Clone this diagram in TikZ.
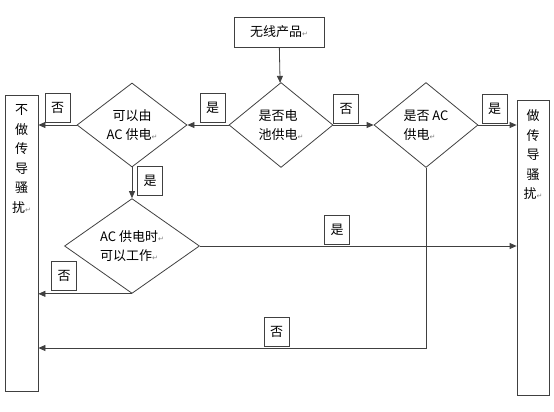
\documentclass[tikz,border=0pt]{standalone}
\usepackage{fontspec}
\setmainfont{Noto Sans CJK SC}
\newfontfamily\markfont{DejaVu Sans}
\usetikzlibrary{positioning,shapes.geometric,arrows.meta}
\newcommand{\pmk}{{\markfont\fontsize{7}{7}\selectfont\textcolor{gray}{↵}}}

\tikzset{
  box/.style={draw=black!75,line width=0.8pt,inner sep=0pt},
  choice/.style={diamond,draw=black!75,line width=0.8pt,inner sep=0pt,aspect=1},
  tag/.style={draw=black!75,line width=0.8pt,minimum width=25pt,minimum height=29pt,inner sep=0pt},
  arr/.style={draw=black!75,line width=0.8pt,-{Triangle[length=7pt,width=6pt]}}
}

\begin{document}
\begin{tikzpicture}[x=1pt,y=-1pt,font=\fontsize{13}{19}\selectfont]
\useasboundingbox (0,0) rectangle (554,412);

% Define the boxes and the choices
\node[box,minimum width=90pt,minimum height=30pt] (prod) at (279,32) {无线产品\pmk};
\node[choice,minimum width=104pt,minimum height=85pt,align=left] (bat) at (281,125) {是否电\\池供电\pmk};
\node[choice,minimum width=110pt,minimum height=84pt,align=center] (ac) at (132,125) {可以由\\AC 供电\pmk};
\node[choice,minimum width=104pt,minimum height=85pt,align=left] (acq) at (426,125) {是否 AC\\供电\pmk};
\node[choice,minimum width=135pt,minimum height=91pt,align=left] (work) at (132,246) {AC 供电时\pmk\\可以工作\pmk};

% Draw the two tall boxes
\node[box,minimum width=33pt,minimum height=296pt] (nobox) at (21.5,243) {};
\node[anchor=north,align=center,inner sep=0pt,font=\fontsize{13}{19.5}\selectfont] (notext) at ([yshift=-10pt]nobox.north) {不\\做\\传\\导\\骚\\扰\pmk};
\node[box,minimum width=32pt,minimum height=295pt] (yesbox) at (533,247.5) {};
\node[anchor=north,align=center,inner sep=0pt,font=\fontsize{13}{19.5}\selectfont] (yestext) at ([yshift=-10pt]yesbox.north) {做\\传\\导\\骚\\扰\pmk};

% Draw the connectors
\draw[arr] (prod) -- (bat);
\draw[arr] (bat.west) -- (ac.east);
\draw[arr] (ac.west) -- (ac.west -| nobox.east);
\draw[arr] (bat.east) -- (acq.west);
\draw[arr] (acq.east) -- (acq.east -| yesbox.west);
\draw[arr] (ac.south) -- (work.north);
\draw[arr] (work.east) -- (work.east -| yesbox.west);
\draw[arr] (work.south) -- (work.south -| nobox.east);
\coordinate (turn) at (acq.south |- 0,348);
\draw[arr] (acq.south) -- (turn) -- (turn -| nobox.east);

% Draw the yes/no tags
\foreach \n/\x/\y/\t in {t1/212.5/108/是, t2/57.5/108/否, t3/346/109/否, t4/494.5/109/是,
    t5/150/180.5/是, t6/337/229.5/是, t7/64/275.5/否, t8/276.5/332/否}
    \node[tag,fill=white] (\n) at (\x,\y) {\t};
\end{tikzpicture}
\end{document}
